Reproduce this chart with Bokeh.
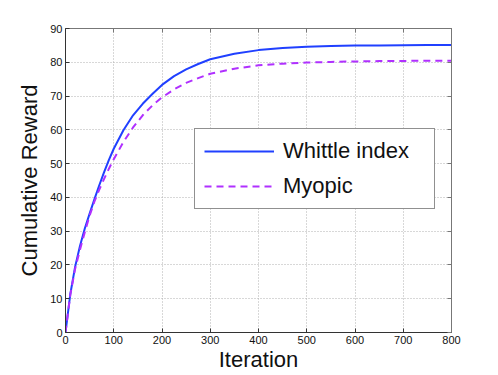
from bokeh.plotting import figure
from bokeh.models import Range1d, LinearAxis, FixedTicker, Legend, LegendItem
from bokeh.embed import file_html
from bokeh.resources import INLINE

# ---- data ----
iterations = [0, 10, 20, 30, 40, 50, 60, 70, 80, 90, 100, 120, 140, 160, 180,
              200, 225, 250, 275, 300, 350, 400, 450, 500, 550, 600, 650, 700,
              750, 800]
whittle = [0.0, 11.4, 19.5, 25.6, 30.8, 35.2, 39.5, 43.6, 47.5, 51.1, 54.4,
           59.9, 64.3, 67.7, 70.6, 73.3, 75.9, 77.9, 79.5, 80.9, 82.5, 83.6,
           84.2, 84.6, 84.8, 84.95, 85.0, 85.05, 85.1, 85.1]
myopic = [0.0, 11.2, 18.9, 24.5, 29.7, 34.6, 38.8, 42.3, 45.5, 48.5, 51.3,
          56.4, 60.7, 64.3, 67.2, 69.6, 72.0, 73.9, 75.3, 76.6, 78.1, 79.1,
          79.6, 79.9, 80.1, 80.25, 80.35, 80.4, 80.45, 80.45]
series_names = ["Whittle index", "Myopic"]
x_ticks = [0, 100, 200, 300, 400, 500, 600, 700, 800]
y_ticks = [0, 10, 20, 30, 40, 50, 60, 70, 80, 90]
x_label = "Iteration"
y_label = "Cumulative Reward"

FONT = "Liberation Sans"

p = figure(width=498, height=375, output_backend="svg", toolbar_location=None,
           x_range=Range1d(0, 800), y_range=Range1d(0, 90),
           min_border_left=65, min_border_right=47, min_border_top=28,
           min_border_bottom=43, background_fill_color="white",
           border_fill_color="white")
p.outline_line_color = "#777777"
p.outline_line_width = 1

# grid
for g in (p.xgrid, p.ygrid):
    g.grid_line_color = "#b0b0b0"
    g.grid_line_dash = "1 2"
    g.grid_line_width = 1
p.xgrid.ticker = FixedTicker(ticks=x_ticks)
p.ygrid.ticker = FixedTicker(ticks=y_ticks)

def style_axis(ax, color, show_labels=True):
    ax.axis_line_color = color
    ax.major_tick_line_color = color
    ax.major_tick_in = 4
    ax.major_tick_out = 0
    ax.minor_tick_line_color = None
    ax.major_label_text_font = FONT
    ax.major_label_text_font_size = "11px"
    if show_labels:
        ax.major_label_text_color = "#111111"
        ax.major_label_standoff = 3
    else:
        ax.major_label_text_color = None
        ax.major_label_standoff = 0

style_axis(p.xaxis[0], "#333333")
style_axis(p.yaxis[0], "#333333")
p.xaxis[0].ticker = FixedTicker(ticks=x_ticks)
p.yaxis[0].ticker = FixedTicker(ticks=y_ticks)
p.xaxis[0].axis_label = x_label
p.yaxis[0].axis_label = y_label
for ax in (p.xaxis[0], p.yaxis[0]):
    ax.axis_label_text_font = FONT
    ax.axis_label_text_font_size = "22px"
    ax.axis_label_text_font_style = "normal"
    ax.axis_label_text_color = "#111111"
p.xaxis[0].axis_label_standoff = 0
p.yaxis[0].axis_label_standoff = 5

top_axis = LinearAxis(ticker=FixedTicker(ticks=x_ticks))
right_axis = LinearAxis(ticker=FixedTicker(ticks=y_ticks))
style_axis(top_axis, "#777777", show_labels=False)
style_axis(right_axis, "#777777", show_labels=False)
p.add_layout(top_axis, "above")
p.add_layout(right_axis, "right")

r1 = p.line(iterations, whittle, line_color="#2040ff", line_width=2)
r2 = p.line(iterations, myopic, line_color="#b030ff", line_width=2,
            line_dash="7 5")

legend = Legend(items=[LegendItem(label=series_names[0], renderers=[r1]),
                       LegendItem(label=series_names[1], renderers=[r2])],
                location=(129, 123))
legend.label_text_font = FONT
legend.label_text_font_size = "22px"
legend.label_text_color = "#111111"
legend.glyph_width = 70
legend.glyph_height = 22
legend.label_height = 22
legend.label_width = 142
legend.label_standoff = 9
legend.spacing = 9
legend.padding = 9
legend.margin = 0
legend.border_line_color = "#222222"
legend.border_line_width = 1
legend.background_fill_color = "white"
legend.background_fill_alpha = 1.0
p.add_layout(legend, "center")

open("out.html", "w").write(file_html(p, INLINE))
